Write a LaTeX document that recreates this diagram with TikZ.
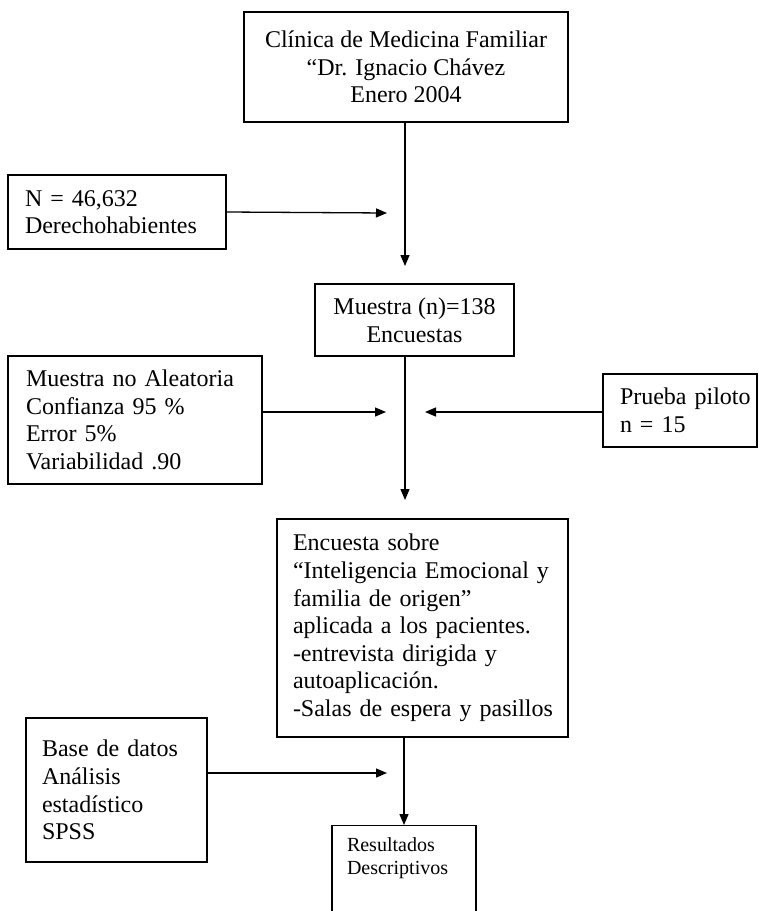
\documentclass[tikz,border=0pt]{standalone}
\usepackage{fontspec}
\setmainfont{Liberation Serif}
\usetikzlibrary{arrows.meta}
\begin{document}
\begin{tikzpicture}[x=1pt,y=-1pt,
  bx/.style={draw, line width=1.3pt, rectangle, inner ysep=0pt, align=left,
    font=\fontsize{24}{27.6}\selectfont},
  cbx/.style={bx, align=center, inner xsep=0pt},
  arr/.style={line width=1.3pt, -{Triangle[length=11pt,width=9pt]}}]
\useasboundingbox (0,0) rectangle (759,911);
% boxes
\node[cbx, minimum width=324pt, minimum height=110pt] (top) at (406,67)
  {Clínica de Medicina Familiar\\“Dr. Ignacio Chávez\\Enero 2004};
\node[bx, inner xsep=17pt, text width=184pt, minimum height=74pt] (N) at (117,212)
  {\mbox{N = 46,632}\\\mbox{Derechohabientes}};
\node[cbx, minimum width=199pt, minimum height=72pt] (mu) at (414.5,320)
  {Muestra (n)=138\\Encuestas};
\node[bx, inner xsep=18pt, text width=218pt, minimum height=128pt] (mna) at (135,420)
  {\mbox{Muestra no Aleatoria}\\\mbox{Confianza 95 \%}\\\mbox{Error 5\%}\\\mbox{Variabilidad .90}};
\node[bx, inner xsep=17pt, text width=120pt, minimum height=73pt] (pr) at (680,410.5)
  {\mbox{Prueba piloto}\\\mbox{n = 15}};
\node[bx, inner xsep=16pt, text width=259pt, minimum height=218pt] (enc) at (422.5,628)
  {\mbox{Encuesta sobre}\\\mbox{“Inteligencia Emocional y}\\\mbox{familia de origen”}\\\mbox{aplicada a los pacientes.}\\\mbox{-entrevista dirigida y}\\\mbox{autoaplicación.}\\\mbox{-Salas de espera y pasillos}};
\node[bx, inner xsep=16pt, text width=149pt, minimum height=144pt] (base) at (116.5,790)
  {\mbox{Base de datos}\\\mbox{Análisis}\\\mbox{estadístico}\\\mbox{SPSS}};
\node[bx, anchor=north, inner xsep=15pt, inner ysep=12pt, text width=114pt,
  font=\fontsize{20}{23}\selectfont] (res) at (404,825)
  {\mbox{Resultados}\\\mbox{Descriptivos}\\\rule{0pt}{70pt}};
% free ends
\coordinate (c1) at (405,266);
\coordinate (c2) at (387,213);
\coordinate (c3) at (405,500);
\coordinate (c4) at (386,412);
\coordinate (c5) at (425,412);
\coordinate (c6) at (387,773);
% connectors
\draw[arr] (c1 |- top.south) -- (c1);
\draw[arr] (N.east) -- (c2);
\draw[arr] (c3 |- mu.south) -- (c3);
\draw[arr] (mna.east |- c4) -- (c4);
\draw[arr] (pr.west |- c5) -- (c5);
\draw[arr] (res.north |- enc.south) -- (res.north);
\draw[arr] (base.east |- c6) -- (c6);
\end{tikzpicture}
\end{document}
